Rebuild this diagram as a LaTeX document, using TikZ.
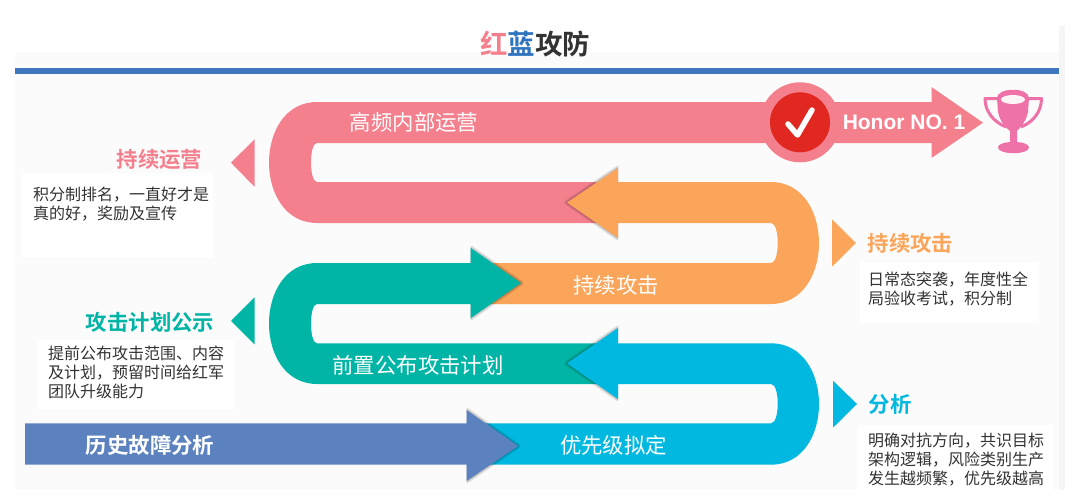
\documentclass[tikz,border=0pt]{standalone}
\usepackage{fontspec}
\setmainfont{Noto Sans CJK SC}[BoldFont={Noto Sans CJK SC Bold}]
\newfontfamily\latinbold{Liberation Sans Bold}
\definecolor{cpink}{HTML}{F4808E}
\definecolor{corange}{HTML}{FBA55A}
\definecolor{cteal}{HTML}{00B5A5}
\definecolor{cblue}{HTML}{00B8E0}
\definecolor{cindigo}{HTML}{5B82BE}
\definecolor{cline}{HTML}{3F78BE}
\definecolor{ctitle}{HTML}{2F74BE}
\definecolor{cred}{HTML}{E02820}
\definecolor{ctrophy}{HTML}{EE72A8}
\definecolor{cbody}{HTML}{333333}
\newcommand{\headshadow}[1]{%
  \foreach \w in {1,2,...,5} {\draw[black,opacity=0.05,line width=\w*1.1pt,line join=round] #1;}%
}
\tikzset{
  bandlabel/.style={text=white,font=\fontsize{21.4}{24}\selectfont,inner sep=0pt},
  boldband/.style={text=white,font=\fontsize{21.4}{24}\selectfont\bfseries,inner sep=0pt},
  headlabel/.style={font=\fontsize{21.4}{24}\selectfont\bfseries,inner sep=0pt},
  bodytext/.style={text=cbody,font=\fontsize{16}{19}\selectfont,align=left,inner sep=0pt,anchor=north west},
  whitebox/.style={fill=white,draw=none},
}
\begin{document}
\begin{tikzpicture}[x=1pt,y=-1pt]
\useasboundingbox (0,0) rectangle (1080,498);
\fill[white] (0,0) rectangle (1080,498);
\fill[black!4] (1059,26) rectangle (1065,490);
\fill[black!1.5] (15,52) rectangle (1059,490);
\fill[cline] (15,68) rectangle (1059,74);
% white text panels
\fill[whitebox] (22,173) rectangle (213,258);
\fill[whitebox] (38,340) rectangle (234,410);
\fill[whitebox] (860,262) rectangle (1039,323);
\fill[whitebox] (857,425) rectangle (1053,490);
% pointer triangles
\fill[cpink] (231,162.7) -- (254.5,139.3) -- (254.5,186.7) -- cycle;
\fill[cteal] (231,321) -- (254.5,297.3) -- (254.5,344.3) -- cycle;
\fill[corange] (856,243) -- (832,219.3) -- (832,266.7) -- cycle;
\fill[cblue] (857,404) -- (833,380.7) -- (833,427.7) -- cycle;
% pink band
\fill[cpink] (983,122.7) -- (931.5,158) -- (931.5,143) -- (317,143)
  .. controls (309,143) and (309,182) .. (317,182) -- (602,182) -- (602,223) -- (317,223)
  .. controls (253,223) and (253,102) .. (317,102) -- (931.5,102) -- (931.5,87) -- cycle;
\fill[cpink] (800,122.3) circle (40);
\fill[cred] (800,122.3) circle (30);
\draw[white,line width=5.5pt,line cap=round,line join=round] (788,124) -- (797.5,135) -- (812,110);
% orange band
\begin{scope}
\clip (560,160) rectangle (618,246);
\headshadow{(567,202.5) -- (618,168) -- (618,238) -- cycle}
\end{scope}
\fill[corange] (567,202.5) -- (618,168) -- (618,182) -- (771,182)
  .. controls (835,182) and (835,304) .. (771,304) -- (486,304) -- (486,263) -- (771,263)
  .. controls (780,263) and (780,223) .. (771,223) -- (618,223) -- (618,238) -- cycle;
% teal band
\begin{scope}
\clip (470.7,240) rectangle (530,326);
\headshadow{(521,283) -- (470.7,248) -- (470.7,318) -- cycle}
\end{scope}
\fill[cteal] (521,283) -- (470.7,318) -- (470.7,304) -- (317,304)
  .. controls (309,304) and (309,343.3) .. (317,343.3) -- (602,343.3) -- (602,384) -- (317,384)
  .. controls (253,384) and (253,263) .. (317,263) -- (470.7,263) -- (470.7,248) -- cycle;
% blue band
\begin{scope}
\clip (560,320) rectangle (618,407);
\headshadow{(567,363.3) -- (618,328) -- (618,399) -- cycle}
\end{scope}
\fill[cblue] (567,363.3) -- (618,328) -- (618,343.3) -- (771,343.3)
  .. controls (835,343.3) and (835,464.7) .. (771,464.7) -- (484,464.7) -- (484,423.3) -- (771,423.3)
  .. controls (780,423.3) and (780,384) .. (771,384) -- (618,384) -- (618,399) -- cycle;
% indigo arrow
\begin{scope}
\clip (466.6,402) rectangle (527,489);
\headshadow{(518,446) -- (466.6,410) -- (466.6,481) -- cycle}
\end{scope}
\fill[cindigo] (25,423.3) -- (466.6,423.3) -- (466.6,410) -- (518,446) -- (466.6,481) -- (466.6,464.7) -- (25,464.7) -- cycle;
% trophy
\fill[ctrophy] (997,98) .. controls (997,87) and (1029,87) .. (1029,98) -- (1028,112) .. controls (1026,122) and (1020,128) .. (1017,131)
  -- (1017,142) .. controls (1024,142.5) and (1029,144.5) .. (1029,147.5) .. controls (1029,155) and (998,155) .. (998,147.5)
  .. controls (998,144.5) and (1003,142.5) .. (1010,142) -- (1010,131) .. controls (1006,128) and (1000,122) .. (998,112) -- cycle;
\fill[white!92!ctrophy] (1013,99.5) ellipse (12 and 4.5);
\draw[ctrophy,line width=3pt,line join=round] (999,98.5) -- (985,98.5) .. controls (985,112) and (994,122) .. (1006,127);
\draw[ctrophy,line width=3pt,line join=round] (1028,98.5) -- (1041.5,98.5) .. controls (1041.5,112) and (1033,122) .. (1021,127);
% labels
\node (title) [inner sep=0pt,font=\fontsize{27.5}{30}\selectfont\bfseries] at (535,44) {\textcolor{cpink}{红}\textcolor{ctitle}{蓝}\textcolor{cbody}{攻防}};
\node (band1) [bandlabel] at (414,122.7) {高频内部运营};
\node (honor) [inner sep=0pt,text=white,font=\latinbold\fontsize{21}{24}\selectfont] at (904,122) {Honor NO. 1};
\node (head1) [headlabel,text=cpink] at (159.5,159.7) {持续运营};
\node (body1) [bodytext] at (33,186.5) {积分制排名，一直好才是\\真的好，奖励及宣传};
\node (band2) [bandlabel] at (616,285.7) {持续攻击};
\node (head2) [headlabel,text=corange] at (910.5,243.7) {持续攻击};
\node (body2) [bodytext] at (868,272) {日常态突袭，年度性全\\局验收考试，积分制};
\node (head3) [headlabel,text=cteal] at (150,322.7) {攻击计划公示};
\node (body3) [bodytext] at (48,346) {提前公布攻击范围、内容\\及计划，预留时间给红军\\团队升级能力};
\node (band3) [bandlabel] at (418,365.7) {前置公布攻击计划};
\node (band4) [boldband] at (150,445.7) {历史故障分析};
\node (band5) [bandlabel] at (613.5,445.7) {优先级拟定};
\node (head4) [headlabel,text=cblue] at (890,404.7) {分析};
\node (body4) [bodytext] at (868,432.5) {明确对抗方向，共识目标\\架构逻辑，风险类别生产\\发生越频繁，优先级越高};
\end{tikzpicture}
\end{document}
